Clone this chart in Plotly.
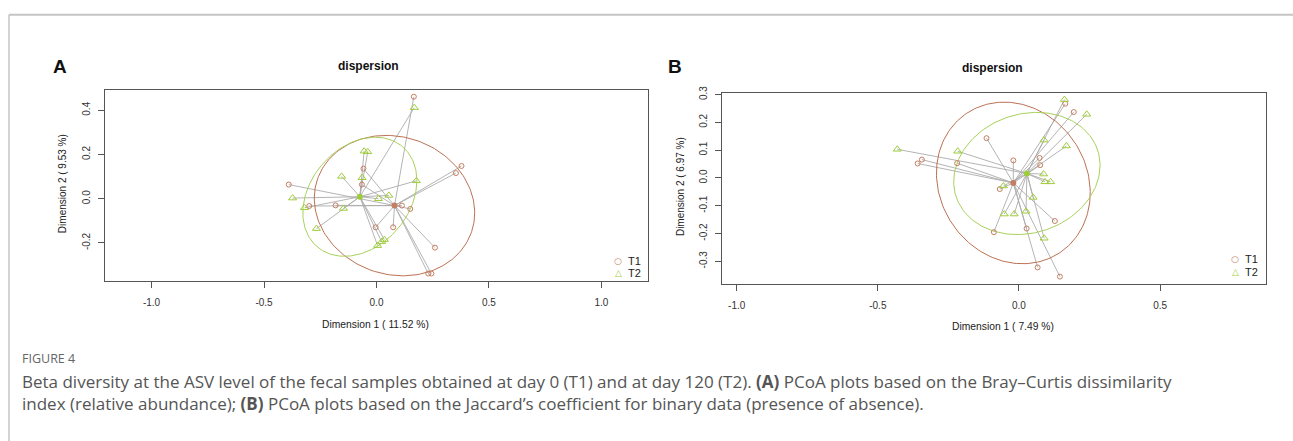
import numpy as np
import plotly.graph_objects as go

# ---------------- data ----------------
# Panel A : Bray-Curtis PCoA
a_t1_x = [0.166, 0.378, 0.353, -0.390, -0.058, -0.065, -0.299, -0.182, 0.113, 0.150, -0.004, 0.074, 0.260, 0.230, 0.244]
a_t1_y = [0.461, 0.148, 0.116, 0.064, 0.136, 0.064, -0.033, -0.030, -0.031, -0.046, -0.129, -0.129, -0.221, -0.338, -0.338]
a_t2_x = [0.168, -0.055, -0.039, -0.155, -0.064, 0.177, -0.373, 0.055, 0.009, -0.320, -0.147, -0.267, 0.035, 0.023, 0.005]
a_t2_y = [0.412, 0.215, 0.212, 0.101, 0.095, 0.081, 0.003, 0.015, 0.000, -0.041, -0.044, -0.135, -0.185, -0.194, -0.212]
a_cent_x = [0.080, -0.074]
a_cent_y = [-0.031, 0.009]

# Panel B : Jaccard PCoA
b_t1_x = [0.164, 0.194, -0.115, -0.344, -0.359, -0.219, -0.020, 0.073, 0.075, -0.068, 0.127, 0.027, -0.089, 0.066, 0.145]
b_t1_y = [0.267, 0.237, 0.143, 0.066, 0.052, 0.053, 0.063, 0.072, 0.046, -0.040, -0.155, -0.182, -0.195, -0.322, -0.355]
b_t2_x = [0.161, 0.240, 0.089, 0.168, -0.431, -0.217, 0.087, 0.092, 0.112, -0.055, 0.050, -0.052, -0.017, 0.025, 0.089]
b_t2_y = [0.282, 0.229, 0.136, 0.115, 0.103, 0.096, 0.014, -0.014, -0.014, -0.029, -0.070, -0.130, -0.130, -0.120, -0.217]
b_cent_x = [-0.020, 0.028]
b_cent_y = [-0.018, 0.016]

groups = ["T1", "T2"]
a_xticks = [-1.0, -0.5, 0.0, 0.5, 1.0]
a_yticks = [-0.2, 0.0, 0.2, 0.4]
b_xticks = [-1.0, -0.5, 0.0, 0.5]
b_yticks = [-0.3, -0.2, -0.1, 0.0, 0.1, 0.2, 0.3]
a_xlabel = "Dimension 1 ( 11.52 %)"
a_ylabel = "Dimension 2 ( 9.53 %)"
b_xlabel = "Dimension 1 ( 7.49 %)"
b_ylabel = "Dimension 2 ( 6.97 %)"
ellipse_conf = 0.70

# ---------------- styling ----------------
W, H = 1293, 441
C1 = "#c47f63"
C2 = "#9fcc3b"
C1_ell = "#bb7153"
C2_ell = "#a8d05a"
SEG = "#ababab"
FONT = "Liberation Sans, Arial, sans-serif"

def px_x(p):
    return p / W

def px_y(p):
    return 1 - p / H

def ellipse(xs, ys, c):
    pts = np.column_stack([xs, ys])
    d = pts - np.array(c)
    cov = d.T @ d / (len(xs) - 1)
    vals, vecs = np.linalg.eigh(cov)
    scale = np.sqrt(-2 * np.log(1 - ellipse_conf))
    t = np.linspace(0, 2 * np.pi, 200)
    circ = np.column_stack([np.cos(t), np.sin(t)]) * np.sqrt(vals) * scale
    e = circ @ vecs.T + np.array(c)
    return e[:, 0], e[:, 1]

def segments(xs, ys, c):
    sx, sy = [], []
    for x, y in zip(xs, ys):
        sx += [c[0], x, None]
        sy += [c[1], y, None]
    return sx, sy

fig = go.Figure()

def add_panel(xa, ya, t1x, t1y, t2x, t2y, cx, cy):
    c1 = (cx[0], cy[0])
    c2 = (cx[1], cy[1])
    sx1, sy1 = segments(t1x, t1y, c1)
    sx2, sy2 = segments(t2x, t2y, c2)
    fig.add_trace(go.Scatter(x=sx1 + sx2, y=sy1 + sy2, mode="lines",
                             line=dict(color=SEG, width=0.9), xaxis=xa, yaxis=ya,
                             showlegend=False, hoverinfo="skip"))
    ex, ey = ellipse(t1x, t1y, c1)
    fig.add_trace(go.Scatter(x=ex, y=ey, mode="lines", line=dict(color=C1_ell, width=1),
                             xaxis=xa, yaxis=ya, showlegend=False, hoverinfo="skip"))
    ex, ey = ellipse(t2x, t2y, c2)
    fig.add_trace(go.Scatter(x=ex, y=ey, mode="lines", line=dict(color=C2_ell, width=1),
                             xaxis=xa, yaxis=ya, showlegend=False, hoverinfo="skip"))
    fig.add_trace(go.Scatter(x=t1x, y=t1y, mode="markers", name=groups[0],
                             marker=dict(symbol="circle-open", size=5, color=C1, line=dict(width=1)),
                             xaxis=xa, yaxis=ya, showlegend=False))
    fig.add_trace(go.Scatter(x=t2x, y=t2y, mode="markers", name=groups[1],
                             marker=dict(symbol="triangle-up-open", size=7, color=C2, line=dict(width=1)),
                             xaxis=xa, yaxis=ya, showlegend=False))
    fig.add_trace(go.Scatter(x=cx, y=cy, mode="markers",
                             marker=dict(symbol="circle", size=6, color=[C1, C2]),
                             xaxis=xa, yaxis=ya, showlegend=False))

add_panel("x", "y", a_t1_x, a_t1_y, a_t2_x, a_t2_y, a_cent_x, a_cent_y)
add_panel("x2", "y2", b_t1_x, b_t1_y, b_t2_x, b_t2_y, b_cent_x, b_cent_y)

# panel boxes (pixel positions)
A_box = (105, 648, 84, 278)
B_box = (722, 1266, 87, 281)

def axis_common(ticks):
    return dict(tickvals=ticks, ticktext=[f"{v:.1f}" for v in ticks], ticks="outside",
                ticklen=6, tickwidth=1, tickcolor="#555", showgrid=False, zeroline=False,
                showline=True, linecolor="#555", linewidth=1, mirror=True,
                tickfont=dict(family=FONT, size=10, color="#333"), fixedrange=True)

fig.update_layout(
    width=W, height=H, margin=dict(l=0, r=0, t=0, b=0),
    paper_bgcolor="white", plot_bgcolor="white", showlegend=False,
    xaxis=dict(domain=[px_x(A_box[0]), px_x(A_box[1])], range=[-1.207, 1.207],
               anchor="y", ticklabelstandoff=6, **axis_common(a_xticks)),
    yaxis=dict(domain=[px_y(A_box[3]), px_y(A_box[2])], range=[-0.370, 0.493],
               anchor="x", tickangle=-90, ticklabelstandoff=4, **axis_common(a_yticks)),
    xaxis2=dict(domain=[px_x(B_box[0]), px_x(B_box[1])], range=[-1.052, 0.875],
                anchor="y2", ticklabelstandoff=6, **axis_common(b_xticks)),
    yaxis2=dict(domain=[px_y(B_box[3]), px_y(B_box[2])], range=[-0.380, 0.307],
                anchor="x2", tickangle=-90, ticklabelstandoff=4, **axis_common(b_yticks)),
)

ann = []
def txt(x, y, s, size, color="#111", bold=False, angle=0, family=FONT, xanchor="center", yanchor="middle"):
    ann.append(dict(x=px_x(x), y=px_y(y), xref="paper", yref="paper", text=f"<b>{s}</b>" if bold else s,
                    showarrow=False, textangle=angle, xanchor=xanchor, yanchor=yanchor,
                    font=dict(family=family, size=size, color=color)))

txt(60, 60, "A", 19, bold=True, family="Liberation Sans, Arial")
txt(675, 60, "B", 19, bold=True, family="Liberation Sans, Arial")
txt((A_box[0] + A_box[1]) / 2 - 8, 60, "dispersion", 12, bold=True)
txt((B_box[0] + B_box[1]) / 2 - 2, 62, "dispersion", 12, bold=True)
txt(375, 323, a_xlabel, 10.3, color="#222")
txt(1003, 325, b_xlabel, 10.3, color="#222")
txt(62, 180, a_ylabel, 10, color="#222", angle=-90)
txt(680, 183, b_ylabel, 10, color="#222", angle=-90)

# legends (R style, bottom-right inside the box)
SYM = "DejaVu Sans, sans-serif"
for (sx, tx, y1, y2) in [(618, 626, 258, 270), (1235, 1243, 256, 269)]:
    txt(sx, y1, "\u25cb", 9, color=C1, family=SYM)
    txt(sx, y2, "\u25b3", 9, color=C2, family=SYM)
    txt(tx, y1, groups[0], 11, color="#222", xanchor="left")
    txt(tx, y2, groups[1], 11, color="#222", xanchor="left")

CAP = "Open Sans, Noto Sans, sans-serif"
txt(20, 357, "FIGURE 4", 12.5, color="#666", family=CAP, xanchor="left")
txt(20, 381, "Beta diversity at the ASV level of the fecal samples obtained at day 0 (T1) and at day 120 (T2). "
    "<b>(A)</b> PCoA plots based on the Bray\u2013Curtis dissimilarity", 17, color="#555", family=CAP, xanchor="left")
txt(20, 403, "index (relative abundance); <b>(B)</b> PCoA plots based on the Jaccard\u2019s coefficient for binary data "
    "(presence of absence).", 17, color="#555", family=CAP, xanchor="left")

fig.update_layout(annotations=ann)

# outer figure frame
fig.add_shape(type="line", xref="paper", yref="paper", x0=px_x(9), x1=1, y0=px_y(8), y1=px_y(8),
              line=dict(color="#c4c4c4", width=2))
fig.add_shape(type="line", xref="paper", yref="paper", x0=px_x(9), x1=px_x(9), y0=px_y(8), y1=0,
              line=dict(color="#c4c4c4", width=1.5))

fig.write_html("out.html", config={"displayModeBar": False},
               post_script="document.body.style.margin='0px';document.body.style.padding='0px';")
